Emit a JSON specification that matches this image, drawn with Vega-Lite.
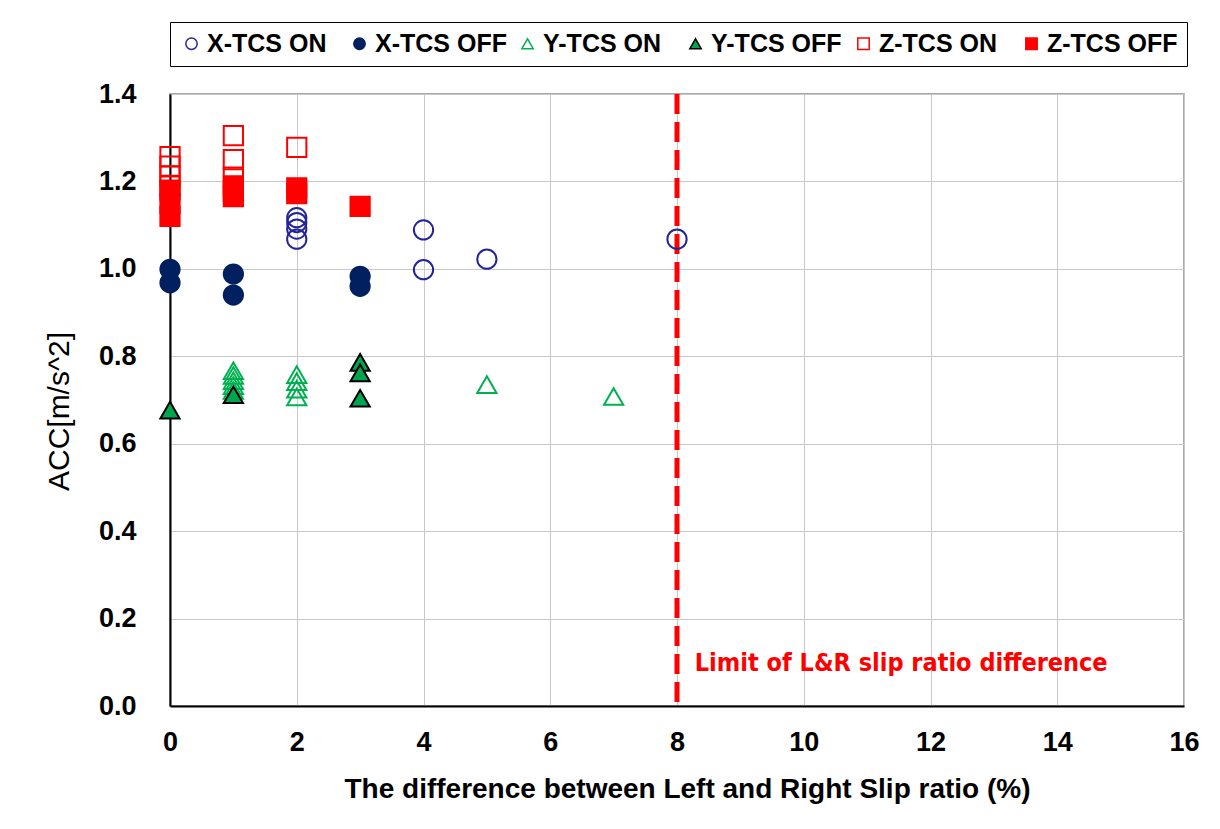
{
  "$schema": "https://vega.github.io/schema/vega-lite/v6.json",
  "autosize": {"type": "none"},
  "padding": {"left": 170, "top": 94, "right": 36, "bottom": 123},
  "width": 1014,
  "height": 612,
  "background": "white",
  "config": {
    "view": {"stroke": "#8c8c8c", "strokeWidth": 1.5},
    "font": "Liberation Sans"
  },
  "data": {
    "values": [
      {"series": "X-TCS ON", "x": 2, "y": 1.117},
      {"series": "X-TCS ON", "x": 2, "y": 1.106},
      {"series": "X-TCS ON", "x": 2, "y": 1.091},
      {"series": "X-TCS ON", "x": 2, "y": 1.068},
      {"series": "X-TCS ON", "x": 4, "y": 1.089},
      {"series": "X-TCS ON", "x": 4, "y": 0.998},
      {"series": "X-TCS ON", "x": 5, "y": 1.022},
      {"series": "X-TCS ON", "x": 8, "y": 1.068},
      {"series": "X-TCS OFF", "x": 0, "y": 0.999},
      {"series": "X-TCS OFF", "x": 0, "y": 0.968},
      {"series": "X-TCS OFF", "x": 1, "y": 0.988},
      {"series": "X-TCS OFF", "x": 1, "y": 0.940},
      {"series": "X-TCS OFF", "x": 3, "y": 0.983},
      {"series": "X-TCS OFF", "x": 3, "y": 0.960},
      {"series": "Y-TCS ON", "x": 1, "y": 0.767},
      {"series": "Y-TCS ON", "x": 1, "y": 0.756},
      {"series": "Y-TCS ON", "x": 1, "y": 0.744},
      {"series": "Y-TCS ON", "x": 1, "y": 0.733},
      {"series": "Y-TCS ON", "x": 1, "y": 0.722},
      {"series": "Y-TCS ON", "x": 2, "y": 0.758},
      {"series": "Y-TCS ON", "x": 2, "y": 0.742},
      {"series": "Y-TCS ON", "x": 2, "y": 0.725},
      {"series": "Y-TCS ON", "x": 2, "y": 0.707},
      {"series": "Y-TCS ON", "x": 5, "y": 0.735},
      {"series": "Y-TCS ON", "x": 7, "y": 0.708},
      {"series": "Y-TCS OFF", "x": 0, "y": 0.677},
      {"series": "Y-TCS OFF", "x": 1, "y": 0.712},
      {"series": "Y-TCS OFF", "x": 3, "y": 0.786},
      {"series": "Y-TCS OFF", "x": 3, "y": 0.762},
      {"series": "Y-TCS OFF", "x": 3, "y": 0.704},
      {"series": "Z-TCS ON", "x": 0, "y": 1.257},
      {"series": "Z-TCS ON", "x": 0, "y": 1.235},
      {"series": "Z-TCS ON", "x": 0, "y": 1.212},
      {"series": "Z-TCS ON", "x": 0, "y": 1.189},
      {"series": "Z-TCS ON", "x": 1, "y": 1.305},
      {"series": "Z-TCS ON", "x": 1, "y": 1.250},
      {"series": "Z-TCS ON", "x": 1, "y": 1.210},
      {"series": "Z-TCS ON", "x": 2, "y": 1.278},
      {"series": "Z-TCS OFF", "x": 0, "y": 1.180},
      {"series": "Z-TCS OFF", "x": 0, "y": 1.150},
      {"series": "Z-TCS OFF", "x": 0, "y": 1.120},
      {"series": "Z-TCS OFF", "x": 1, "y": 1.190},
      {"series": "Z-TCS OFF", "x": 1, "y": 1.178},
      {"series": "Z-TCS OFF", "x": 1, "y": 1.165},
      {"series": "Z-TCS OFF", "x": 2, "y": 1.185},
      {"series": "Z-TCS OFF", "x": 2, "y": 1.172},
      {"series": "Z-TCS OFF", "x": 3, "y": 1.143}
    ]
  },
  "layer": [
    {
      "data": {"values": [{"limit": 8}]},
      "mark": {"type": "rule", "color": "#FF0000", "strokeWidth": 5, "strokeDash": [20, 8]},
      "encoding": {
        "x": {"field": "limit", "type": "quantitative", "scale": {"domain": [0, 16]}}
      }
    },
    {
      "mark": {"type": "point", "strokeWidth": 2, "opacity": 1, "size": 370},
      "encoding": {
        "x": {
          "field": "x", "type": "quantitative",
          "scale": {"domain": [0, 16], "nice": false},
          "axis": {
            "values": [0, 2, 4, 6, 8, 10, 12, 14, 16],
            "format": "d", "labelFlush": false,
            "title": "The difference between Left and Right Slip ratio (%)",
            "titleFontSize": 28, "titleFontWeight": "bold", "titleColor": "#000",
            "titlePadding": 20, "titleX": 517,
            "labelFontSize": 27, "labelFontWeight": "bold", "labelColor": "#000",
            "labelPadding": 23, "ticks": false,
            "domainColor": "#000", "domainWidth": 2,
            "gridColor": "#c8c8c8", "gridWidth": 1
          }
        },
        "y": {
          "field": "y", "type": "quantitative",
          "scale": {"domain": [0, 1.4], "nice": false, "zero": true},
          "axis": {
            "values": [0, 0.2, 0.4, 0.6, 0.8, 1.0, 1.2, 1.4],
            "format": ".1f", "labelFlush": false,
            "title": "ACC[m/s^2]",
            "titleFontSize": 30, "titleFontWeight": "normal", "titleColor": "#000",
            "titlePadding": 24, "titleY": 317,
            "labelFontSize": 27, "labelFontWeight": "bold", "labelColor": "#000",
            "labelPadding": 34, "ticks": false,
            "domainColor": "#000", "domainWidth": 2,
            "gridColor": "#c8c8c8", "gridWidth": 1
          }
        },
        "shape": {
          "field": "series", "type": "nominal",
          "scale": {
            "domain": ["X-TCS ON", "X-TCS OFF", "Y-TCS ON", "Y-TCS OFF", "Z-TCS ON", "Z-TCS OFF"],
            "range": ["circle", "circle", "triangle-up", "triangle-up", "square", "square"]
          },
          "legend": {
            "title": null, "orient": "none", "legendX": 0, "legendY": -72,
            "direction": "horizontal", "columns": 6, "gridAlign": "all",
            "strokeColor": "#000", "padding": 9, "fillColor": "white",
            "labelFont": "Liberation Sans", "labelFontSize": 25, "labelFontWeight": "bold",
            "labelColor": "#000", "labelOffset": 3, "columnPadding": 8,
            "symbolSize": 130, "symbolStrokeWidth": 1.5, "labelLimit": 300
          }
        },
        "fill": {
          "field": "series", "type": "nominal",
          "scale": {
            "domain": ["X-TCS ON", "X-TCS OFF", "Y-TCS ON", "Y-TCS OFF", "Z-TCS ON", "Z-TCS OFF"],
            "range": ["transparent", "#002060", "transparent", "#00A550", "transparent", "#FF0000"]
          },
          "legend": {"title": null}
        },
        "stroke": {
          "field": "series", "type": "nominal",
          "scale": {
            "domain": ["X-TCS ON", "X-TCS OFF", "Y-TCS ON", "Y-TCS OFF", "Z-TCS ON", "Z-TCS OFF"],
            "range": ["#23239A", "#002060", "#00B050", "#000000", "#FF0000", "#FF0000"]
          },
          "legend": {"title": null}
        }
      }
    },
    {
      "data": {"values": [{"x": 8.28, "y": 0.099, "label": "Limit of L&R slip ratio difference"}]},
      "mark": {"type": "text", "align": "left", "baseline": "middle", "color": "#FF0000",
               "font": "DejaVu Sans Condensed", "fontSize": 25, "fontWeight": "bold"},
      "encoding": {
        "x": {"field": "x", "type": "quantitative"},
        "y": {"field": "y", "type": "quantitative"},
        "text": {"field": "label"}
      }
    }
  ]
}
